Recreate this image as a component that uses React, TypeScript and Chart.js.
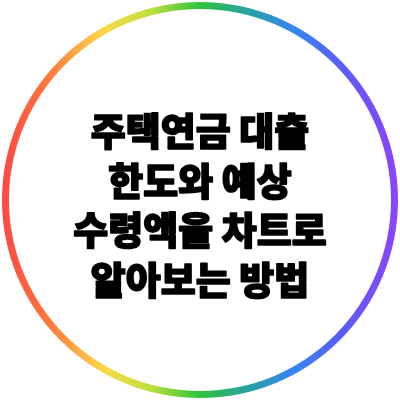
import React, { useEffect, useRef } from 'react';
import Chart from 'chart.js/auto';

// ring: one full slice, coloured by a left-to-right rainbow
const ringLabels: string[] = ['ring'];
const ringValues: number[] = [1];
const rainbowStops: number[] = [0, 0.12, 0.26, 0.38, 0.5, 0.62, 0.74, 0.86, 1];
const rainbowColors: string[] = [
  '#ff4646', '#ff7a3c', '#fcd94a', '#b9e03e', '#2ec23b',
  '#2aa1a4', '#3684f5', '#5a5cf8', '#8b45fb',
];

// title text, one entry per line
const titleLines: string[] = [
  '주택연금 대출',
  '한도와 예상',
  '수령액을 차트로',
  '알아보는 방법',
];

const centerText = {
  id: 'centerText',
  afterDraw(chart: any) {
    const { ctx, chartArea } = chart;
    const cx = (chartArea.left + chartArea.right) / 2;
    const top = 131;
    const gap = 49.5;
    ctx.save();
    ctx.fillStyle = '#000000';
    ctx.strokeStyle = '#000000';
    ctx.lineWidth = 1.6;
    ctx.lineJoin = 'round';
    ctx.font = '900 38px "Noto Sans CJK KR", sans-serif';
    ctx.textAlign = 'center';
    ctx.textBaseline = 'middle';
    titleLines.forEach((line, i) => {
      // stroke thickens the glyphs toward the heavy look of the title
      ctx.strokeText(line, cx, top + i * gap);
      ctx.fillText(line, cx, top + i * gap);
    });
    ctx.restore();
  },
};

const App: React.FC = () => {
  const chartRef = useRef<HTMLCanvasElement>(null);
  const chartInstanceRef = useRef<Chart | null>(null);

  useEffect(() => {
    document.body.style.margin = '0';
    if (!chartRef.current) return;
    const ctx = chartRef.current.getContext('2d');
    if (!ctx) return;

    if (chartInstanceRef.current) {
      chartInstanceRef.current.destroy();
    }

    chartInstanceRef.current = new Chart(ctx, {
      type: 'doughnut',
      data: {
        labels: ringLabels,
        datasets: [
          {
            data: ringValues,
            borderWidth: 0,
            backgroundColor: (c: any) => {
              const area = c.chart.chartArea;
              if (!area) return rainbowColors[0];
              const g = c.chart.ctx.createLinearGradient(area.left, 0, area.right, 0);
              rainbowStops.forEach((s, i) => g.addColorStop(s, rainbowColors[i]));
              return g;
            },
          },
        ],
      },
      options: {
        animation: false,
        responsive: false,
        cutout: 191,
        layout: { padding: 2 },
        plugins: {
          legend: { display: false },
          tooltip: { enabled: false },
        },
      },
      plugins: [centerText],
    });

    return () => {
      if (chartInstanceRef.current) {
        chartInstanceRef.current.destroy();
        chartInstanceRef.current = null;
      }
    };
  }, []);

  return (
    <div style={{ position: 'absolute', left: 0, top: 0, width: 400, height: 400, background: '#ffffff' }}>
      <canvas ref={chartRef} width={400} height={400}></canvas>
    </div>
  );
};

export default App;
